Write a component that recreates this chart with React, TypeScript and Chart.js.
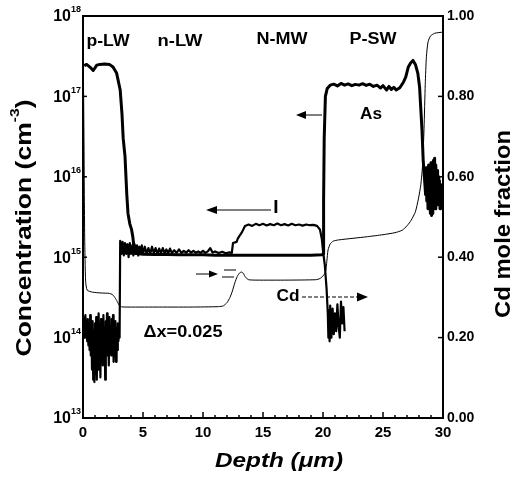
import React, { useEffect, useRef } from "react";
import { Chart, registerables } from "chart.js";

Chart.register(...registerables);

// ---------- data (depth in µm, value) ----------
const asProfile: [number, number][] = [
  [0.1, 2.4e17], [0.3, 2.5e17], [0.6, 2.3e17], [0.85, 2.1e17], [1.15, 2.45e17], [1.4, 2.5e17],
  [1.8, 2.53e17], [2.2, 2.5e17], [2.5, 2.32e17], [2.8, 1.95e17], [3.1, 1.2e17], [3.25, 6e16],
  [3.35, 3e16], [3.5, 1.8e16], [3.65, 6e15], [3.75, 3.5e15], [3.9, 2.6e15], [4.05, 2.2e15],
  [4.15, 1.8e15], [4.3, 1.12e15], [5, 1.09e15], [6, 1.08e15], [7, 1.08e15], [8, 1.07e15],
  [9, 1.07e15], [10, 1.07e15], [11, 1.06e15], [12, 1.06e15], [13, 1.06e15], [14, 1.06e15],
  [15, 1.06e15], [16, 1.06e15], [17, 1.06e15], [18, 1.06e15], [19, 1.06e15], [19.9, 1.07e15],
  [20.0, 1.1e15], [20.05, 5e15], [20.1, 3e16], [20.2, 1e17], [20.35, 1.25e17], [20.6, 1.38e17],
  [20.9, 1.42e17], [21.2, 1.35e17], [21.5, 1.45e17], [21.8, 1.38e17], [22.1, 1.43e17], [22.4, 1.36e17],
  [22.7, 1.41e17], [23.0, 1.38e17], [23.3, 1.44e17], [23.6, 1.37e17], [23.9, 1.42e17], [24.2, 1.33e17],
  [24.5, 1.38e17], [24.8, 1.27e17], [25.0, 1.36e17], [25.3, 1.2e17], [25.5, 1.33e17], [25.7, 1.22e17],
  [25.9, 1.3e17], [26.1, 1.2e17], [26.4, 1.28e17], [26.7, 1.5e17], [26.9, 1.75e17], [27.1, 2.3e17],
  [27.3, 2.6e17], [27.5, 2.8e17], [27.7, 2.5e17], [27.9, 1.95e17], [28.05, 1.3e17], [28.15, 7e16],
  [28.25, 3.8e16], [28.35, 1.6e16], [28.45, 1.0e16], [28.55, 6e15], [28.6, 1.3e16], [28.65, 5e15],
  [28.7, 1.1e16], [28.75, 4e15], [28.8, 1.4e16], [28.85, 4.5e15], [28.9, 1.2e16], [28.95, 3.5e15],
  [29.0, 1.5e16], [29.05, 3.3e15], [29.1, 1.3e16], [29.15, 3.5e15], [29.2, 1.6e16], [29.25, 5e15],
  [29.3, 1.7e16], [29.35, 4e15], [29.4, 1.4e16], [29.45, 5.5e15], [29.5, 1.2e16], [29.55, 4.5e15],
  [29.6, 1.0e16], [29.65, 5e15], [29.7, 9e15], [29.75, 4e15], [29.8, 8e15], [29.85, 5e15], [29.9, 7e15],
];

const iProfile: [number, number][] = [
  [0.1, 1.8e14], [0.15, 1.0e14], [0.2, 1.9e14], [0.25, 1.1e14], [0.3, 1.6e14], [0.35, 9e13],
  [0.4, 1.7e14], [0.45, 8e13], [0.5, 1.5e14], [0.55, 7e13], [0.6, 1.9e14], [0.65, 6e13],
  [0.7, 1.4e14], [0.75, 4e13], [0.8, 1.6e14], [0.85, 3e13], [0.9, 1.2e14], [0.95, 2.8e13],
  [1.0, 1.5e14], [1.05, 3.5e13], [1.1, 1.8e14], [1.15, 3e13], [1.2, 1.3e14], [1.25, 4e13],
  [1.3, 2e14], [1.35, 5e13], [1.4, 1.5e14], [1.45, 3.2e13], [1.5, 1.7e14], [1.55, 6e13],
  [1.6, 1.4e14], [1.65, 4.5e13], [1.7, 1.9e14], [1.75, 5.5e13], [1.8, 1.3e14], [1.85, 3e13],
  [1.9, 1.6e14], [1.95, 7e13], [2.0, 2e14], [2.05, 6e13], [2.1, 1.5e14], [2.15, 4.5e13],
  [2.2, 1.8e14], [2.25, 8e13], [2.3, 1.4e14], [2.35, 6e13], [2.4, 1.7e14], [2.45, 7e13],
  [2.5, 1.9e14], [2.55, 5e13], [2.6, 1.5e14], [2.65, 6e13], [2.7, 1.6e14], [2.75, 5e13],
  [2.8, 1.3e14], [2.85, 7e13], [2.9, 1.5e14], [2.95, 9e13], [3.0, 1.2e14], [3.05, 1.0e14],
  [3.1, 1.6e15], [3.2, 1.1e15], [3.3, 1.55e15], [3.4, 1.05e15], [3.5, 1.5e15], [3.6, 1.1e15],
  [3.7, 1.45e15], [3.8, 1.0e15], [3.9, 1.5e15], [4.0, 1.1e15], [4.1, 1.4e15], [4.2, 1.05e15],
  [4.3, 1.45e15], [4.4, 1.1e15], [4.5, 1.4e15], [4.6, 1.05e15], [4.7, 1.35e15], [4.8, 1.1e15],
  [4.9, 1.4e15], [5.0, 1.1e15], [5.15, 1.35e15], [5.3, 1.1e15], [5.45, 1.3e15], [5.6, 1.1e15],
  [5.75, 1.35e15], [5.9, 1.12e15], [6.05, 1.3e15], [6.2, 1.1e15], [6.35, 1.28e15], [6.5, 1.12e15],
  [6.65, 1.3e15], [6.8, 1.12e15], [6.95, 1.25e15], [7.1, 1.12e15], [7.25, 1.28e15], [7.4, 1.13e15],
  [7.6, 1.22e15], [7.8, 1.13e15], [8.0, 1.25e15], [8.2, 1.13e15], [8.4, 1.2e15], [8.6, 1.14e15],
  [8.8, 1.22e15], [9.0, 1.14e15], [9.2, 1.2e15], [9.4, 1.14e15], [9.6, 1.18e15], [9.8, 1.13e15],
  [10.0, 1.2e15], [10.2, 1.13e15], [10.4, 1.18e15], [10.6, 1.3e15], [10.8, 1.14e15], [11.0, 1.18e15],
  [11.3, 1.13e15], [11.6, 1.17e15], [11.9, 1.12e15], [12.2, 1.15e15], [12.4, 1.13e15], [12.5, 1.5e15],
  [12.8, 1.55e15], [12.9, 1.7e15], [13.1, 1.9e15], [13.25, 2.05e15], [13.5, 2.45e15], [13.8, 2.55e15],
  [14.1, 2.45e15], [14.4, 2.6e15], [14.7, 2.5e15], [15.0, 2.6e15], [15.3, 2.48e15], [15.6, 2.58e15],
  [15.9, 2.5e15], [16.2, 2.62e15], [16.5, 2.5e15], [16.8, 2.58e15], [17.1, 2.48e15], [17.4, 2.6e15],
  [17.7, 2.5e15], [18.0, 2.55e15], [18.3, 2.47e15], [18.6, 2.55e15], [18.9, 2.5e15], [19.2, 2.52e15],
  [19.5, 2.45e15], [19.75, 2.2e15], [19.9, 1.7e15], [20.0, 1.2e15], [20.15, 8e14], [20.3, 4e14],
  [20.4, 2e14], [20.45, 1.0e14], [20.5, 2.2e14], [20.55, 9e13], [20.6, 2.5e14], [20.7, 1.0e14],
  [20.8, 2.3e14], [20.9, 1.1e14], [21.0, 2.0e14], [21.1, 1.2e14], [21.2, 2.6e14], [21.3, 1.4e14],
  [21.4, 1.0e14], [21.5, 2.8e14], [21.6, 1.5e14], [21.7, 2.4e14], [21.8, 1.2e14],
];

const cdProfile: [number, number][] = [
  [0, 0.98], [0.08, 0.7], [0.14, 0.45], [0.22, 0.34], [0.35, 0.318], [0.8, 0.313], [1.5, 0.311],
  [2.2, 0.31], [2.45, 0.307], [2.65, 0.3], [2.85, 0.29], [3.0, 0.281], [3.15, 0.277], [3.5, 0.276],
  [6, 0.276], [9, 0.276], [11.3, 0.277], [11.7, 0.279], [12.0, 0.287], [12.25, 0.3], [12.45, 0.316],
  [12.65, 0.336], [12.85, 0.352], [13.05, 0.361], [13.2, 0.363], [13.35, 0.36], [13.55, 0.35],
  [13.8, 0.344], [14.5, 0.343], [17, 0.343], [19.4, 0.344], [19.75, 0.347], [20.05, 0.355],
  [20.22, 0.365], [20.32, 0.39], [20.42, 0.418], [20.6, 0.433], [20.85, 0.44], [21.3, 0.443],
  [22.5, 0.447], [23.7, 0.451], [25, 0.456], [26, 0.461], [26.6, 0.467], [27.0, 0.478],
  [27.35, 0.492], [27.7, 0.513], [27.95, 0.545], [28.15, 0.58], [28.3, 0.63], [28.42, 0.72],
  [28.52, 0.83], [28.62, 0.9], [28.75, 0.935], [28.95, 0.95], [29.3, 0.957], [30, 0.96],
];

const depthTicks = [0, 5, 10, 15, 20, 25, 30];
const depthMinorTicks = [1, 2, 3, 4, 6, 7, 8, 9, 11, 12, 13, 14, 16, 17, 18, 19, 21, 22, 23, 24, 26, 27, 28, 29];
const concExponents = [13, 14, 15, 16, 17, 18];
const fractionTicks = [0, 0.2, 0.4, 0.6, 0.8, 1.0];

const FONT = '"Liberation Sans", Arial, Helvetica, sans-serif';

function drawFitText(ctx: CanvasRenderingContext2D, text: string, cx: number, cy: number, font: string, width?: number) {
  ctx.save();
  ctx.font = font;
  const w = ctx.measureText(text).width;
  const sx = width ? width / w : 1;
  ctx.translate(cx, cy);
  ctx.scale(sx, 1);
  ctx.textAlign = "center";
  ctx.textBaseline = "middle";
  ctx.fillText(text, 0, 0);
  ctx.restore();
}

function drawArrow(ctx: CanvasRenderingContext2D, x1: number, y: number, x2: number, head = 10, hw = 4, lw = 1, dash?: number[]) {
  ctx.save();
  ctx.lineWidth = lw;
  const dir = Math.sign(x2 - x1);
  if (dash) ctx.setLineDash(dash);
  ctx.beginPath();
  ctx.moveTo(x1, y);
  ctx.lineTo(x2 - dir * head, y);
  ctx.stroke();
  ctx.setLineDash([]);
  ctx.beginPath();
  ctx.moveTo(x2, y);
  ctx.lineTo(x2 - dir * head, y - hw);
  ctx.lineTo(x2 - dir * head, y + hw);
  ctx.closePath();
  ctx.fill();
  ctx.restore();
}

// rotated (-90°) title, made of segments with optional superscript
function drawVerticalTitle(ctx: CanvasRenderingContext2D, parts: { t: string; sup?: boolean }[], cx: number, cy: number, size: number, length: number) {
  ctx.save();
  const fontMain = `bold ${size}px ${FONT}`;
  const fontSup = `bold ${Math.round(size * 0.6)}px ${FONT}`;
  const widths = parts.map((p) => {
    ctx.font = p.sup ? fontSup : fontMain;
    return ctx.measureText(p.t).width;
  });
  const total = widths.reduce((a, b) => a + b, 0);
  const sx = length / total;
  ctx.translate(cx, cy);
  ctx.rotate(-Math.PI / 2);
  ctx.scale(sx, 1);
  ctx.textAlign = "left";
  ctx.textBaseline = "middle";
  let x = -total / 2;
  parts.forEach((p, i) => {
    ctx.font = p.sup ? fontSup : fontMain;
    ctx.fillText(p.t, x, p.sup ? -size * 0.42 : 0);
    x += widths[i];
  });
  ctx.restore();
}

const decorPlugin = {
  id: "decor",
  afterDraw(chart: any) {
    const { ctx, chartArea: ca, scales } = chart;
    const xs = scales.x;
    const ys = scales.y;
    const y2 = scales.y2;
    ctx.save();
    ctx.fillStyle = "#000";
    ctx.strokeStyle = "#000";

    // top frame line
    ctx.lineWidth = 2;
    ctx.beginPath();
    ctx.moveTo(ca.left - 1, ca.top);
    ctx.lineTo(ca.right + 1, ca.top);
    ctx.stroke();

    // x ticks (inward)
    ctx.lineWidth = 1.5;
    depthTicks.forEach((v) => {
      const px = xs.getPixelForValue(v);
      ctx.beginPath();
      ctx.moveTo(px, ca.bottom);
      ctx.lineTo(px, ca.bottom - 6);
      ctx.stroke();
    });
    depthMinorTicks.forEach((v) => {
      const px = xs.getPixelForValue(v);
      ctx.beginPath();
      ctx.moveTo(px, ca.bottom);
      ctx.lineTo(px, ca.bottom - 3);
      ctx.stroke();
    });

    // left decade ticks + labels
    concExponents.forEach((e) => {
      const py = ys.getPixelForValue(Math.pow(10, e));
      ctx.beginPath();
      ctx.moveTo(ca.left, py);
      ctx.lineTo(ca.left + 4, py);
      ctx.stroke();
      ctx.font = `bold 9px ${FONT}`;
      const ew = ctx.measureText(String(e)).width;
      ctx.textBaseline = "middle";
      ctx.textAlign = "left";
      ctx.fillText(String(e), ca.left - 2 - ew, py - 6);
      ctx.font = `bold 16px ${FONT}`;
      ctx.textAlign = "right";
      ctx.fillText("10", ca.left - 2 - ew, py + 1);
    });

    // right ticks
    fractionTicks.forEach((v) => {
      const py = y2.getPixelForValue(v);
      ctx.beginPath();
      ctx.moveTo(ca.right, py);
      ctx.lineTo(ca.right - 5, py);
      ctx.stroke();
    });

    // axis titles
    drawVerticalTitle(ctx, [{ t: "Concentration (cm" }, { t: "-3", sup: true }, { t: ")" }], 25, 228, 22, 257);
    drawVerticalTitle(ctx, [{ t: "Cd mole fraction" }], 504, 224, 22, 188);
    drawFitText(ctx, "Depth (\u03bcm)", 279, 461, `italic bold 21px ${FONT}`, 128);

    // region labels
    drawFitText(ctx, "p-LW", 108, 42, `bold 16px ${FONT}`, 43);
    drawFitText(ctx, "n-LW", 180, 42, `bold 16px ${FONT}`, 45);
    drawFitText(ctx, "N-MW", 282, 40, `bold 16px ${FONT}`, 51);
    drawFitText(ctx, "P-SW", 373, 40, `bold 16px ${FONT}`, 47);

    // species labels with arrows
    drawFitText(ctx, "As", 371, 115, `bold 16px ${FONT}`, 22);
    drawArrow(ctx, 322, 115, 296, 10, 4, 1);
    drawFitText(ctx, "I", 276, 208, `bold 19px ${FONT}`);
    drawArrow(ctx, 271, 210, 206, 11, 4, 1);
    drawFitText(ctx, "Cd", 288, 297, `bold 16px ${FONT}`, 23);
    drawArrow(ctx, 302, 297, 368, 11, 4.5, 1, [4, 2]);

    drawFitText(ctx, "\u0394x=0.025", 183, 333, `bold 16px ${FONT}`, 79);
    // small markers near the Cd step
    drawArrow(ctx, 196, 274, 218, 9, 3.5, 1);
    ctx.lineWidth = 1;
    ctx.beginPath();
    ctx.moveTo(224, 270); ctx.lineTo(236, 270);
    ctx.moveTo(222, 277); ctx.lineTo(234, 277);
    ctx.stroke();

    ctx.restore();
  },
};

export default function App() {
  const canvasRef = useRef<HTMLCanvasElement | null>(null);

  useEffect(() => {
    const canvas = canvasRef.current;
    if (!canvas) return;
    const toXY = (arr: [number, number][]) => arr.map(([x, y]) => ({ x, y }));
    const chart = new Chart(canvas, {
      type: "line",
      data: {
        datasets: [
          {
            label: "As",
            data: toXY(asProfile),
            yAxisID: "y",
            borderColor: "#000",
            borderWidth: 3,
            pointRadius: 0,
            tension: 0,
            borderJoinStyle: "round",
          },
          {
            label: "I",
            data: toXY(iProfile),
            yAxisID: "y",
            borderColor: "#000",
            borderWidth: 2.2,
            pointRadius: 0,
            tension: 0,
            borderJoinStyle: "round",
          },
          {
            label: "Cd",
            data: toXY(cdProfile),
            yAxisID: "y2",
            borderColor: "#000",
            borderWidth: 1,
            pointRadius: 0,
            tension: 0.2,
          },
        ],
      },
      options: {
        responsive: false,
        animation: false,
        events: [],
        layout: { padding: { top: 16, left: 0, right: 0, bottom: 0 } },
        plugins: { legend: { display: false }, tooltip: { enabled: false } },
        scales: {
          x: {
            type: "linear",
            position: "bottom",
            min: 0,
            max: 30,
            afterBuildTicks: (s: any) => {
              s.ticks = depthTicks.map((v) => ({ value: v }));
            },
            ticks: { color: "#000", font: { family: FONT, size: 15, weight: "bold" }, padding: 6, maxRotation: 0 },
            grid: { display: false, drawTicks: false },
            border: { display: true, color: "#000", width: 2 },
            afterFit: (s: any) => {
              s.height = 60;
            },
          },
          y: {
            type: "logarithmic",
            position: "left",
            min: 1e13,
            max: 1e18,
            ticks: { display: false },
            grid: { display: false, drawTicks: false },
            border: { display: true, color: "#000", width: 2 },
            afterFit: (s: any) => {
              s.width = 83;
            },
          },
          y2: {
            type: "linear",
            position: "right",
            min: 0,
            max: 1,
            afterBuildTicks: (s: any) => {
              s.ticks = fractionTicks.map((v) => ({ value: v }));
            },
            ticks: {
              color: "#000",
              font: { family: FONT, size: 14, weight: "bold" },
              padding: 4,
              callback: (v: any) => Number(v).toFixed(2),
            },
            grid: { display: false, drawTicks: false },
            border: { display: true, color: "#000", width: 2 },
            afterFit: (s: any) => {
              s.width = 75;
            },
          },
        },
      } as any,
      plugins: [decorPlugin],
    });
    return () => chart.destroy();
  }, []);

  return (
    <div style={{ position: "absolute", left: 0, top: 0, width: 518, height: 478, background: "#fff" }}>
      <canvas ref={canvasRef} width={518} height={478} style={{ display: "block" }} />
    </div>
  );
}
